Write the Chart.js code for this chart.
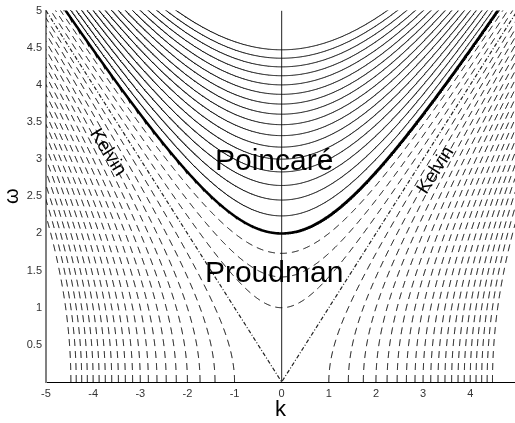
<!DOCTYPE html>
<html>
<head>
<meta charset="utf-8">
<script src="https://cdn.jsdelivr.net/npm/chart.js@4.4.0/dist/chart.umd.min.js"></script>
<style>
  html, body { margin: 0; padding: 0; background: #fff; }
  canvas { display: block; }
</style>
</head>
<body>
<canvas id="dispersionChart" width="515" height="423"></canvas>
<script>
// omega^2 at k = 0 for each branch above the Kelvin lines
const poincareCutoffs = [5, 6, 7, 8, 9, 10, 11, 12, 13, 14, 15, 16, 17, 18, 19, 20];
const inertialCutoff = 4;
const proudmanCutoffs = [1, 2, 3];
// k^2 where each branch outside the Kelvin wedge meets omega = 0
const sideIntercepts = [1, 2, 3, 4, 5, 6, 7, 8, 9, 10, 11, 12, 13, 14, 15, 16, 17, 18, 19, 20];
// Kelvin waves, omega = |k|
const kelvinK = [-5, 0, 5];

const xTicks = [-5, -4, -3, -2, -1, 0, 1, 2, 3, 4];
const yTicks = [0.5, 1, 1.5, 2, 2.5, 3, 3.5, 4, 4.5, 5];

const K_MIN = -5, K_MAX = 4.95, W_MAX = 5;
const STEP = 0.01;

const FONT = '"Liberation Sans", Arial, Helvetica, sans-serif';

// omega = sqrt(k^2 + c), sampled across k
function upperBranch(c) {
  const pts = [];
  for (let k = -5.2; k <= 5.2; k += STEP) {
    pts.push({ x: k, y: Math.sqrt(k * k + c) });
  }
  return pts;
}

// k = +-sqrt(omega^2 + n), sampled across omega so the foot stays vertical
function sideBranch(n, sign) {
  const pts = [];
  for (let w = 0; w <= W_MAX + 0.2; w += STEP) {
    pts.push({ x: sign * Math.sqrt(w * w + n), y: w });
  }
  return pts;
}

function line(data, opts) {
  return Object.assign({
    data,
    showLine: true,
    pointRadius: 0,
    borderColor: '#000',
    borderWidth: 1,
    fill: false,
    tension: 0
  }, opts);
}

const datasets = [];

sideIntercepts.forEach(n => {
  datasets.push(line(sideBranch(n, -1), { borderDash: [7, 5] }));
  datasets.push(line(sideBranch(n, 1), { borderDash: [7, 5] }));
});

proudmanCutoffs.forEach(c => {
  datasets.push(line(upperBranch(c), { borderDash: [7, 5] }));
});

poincareCutoffs.forEach(c => {
  datasets.push(line(upperBranch(c)));
});

datasets.push(line(upperBranch(inertialCutoff), { borderWidth: 2.5 }));

datasets.push(line(kelvinK.map(k => ({ x: k, y: Math.abs(k) })), {
  borderColor: '#222',
  borderWidth: 1.2,
  borderDash: [4, 2, 1, 2]
}));

// k = 0 axis
datasets.push(line([{ x: 0, y: 0 }, { x: 0, y: W_MAX }], { borderColor: '#222' }));

const regionLabels = {
  id: 'regionLabels',
  afterDatasetsDraw(chart) {
    const { ctx, scales: { x, y } } = chart;
    ctx.save();
    ctx.fillStyle = '#000';
    ctx.textAlign = 'center';
    ctx.textBaseline = 'alphabetic';
    ctx.font = '30px ' + FONT;
    ctx.fillText('Poincaré', x.getPixelForValue(-0.16), y.getPixelForValue(2.86));
    ctx.fillText('Proudman', x.getPixelForValue(-0.16), y.getPixelForValue(1.345));

    // tilt of the omega = |k| line in pixels
    const angle = Math.atan2(
      y.getPixelForValue(0) - y.getPixelForValue(1),
      x.getPixelForValue(1) - x.getPixelForValue(0)
    );
    ctx.font = '19px ' + FONT;
    ctx.textBaseline = 'middle';

    ctx.save();
    ctx.translate(x.getPixelForValue(-3.69), y.getPixelForValue(3.09));
    ctx.rotate(angle);
    ctx.fillText('Kelvin', 0, 0);
    ctx.restore();

    ctx.save();
    ctx.translate(x.getPixelForValue(3.27), y.getPixelForValue(2.85));
    ctx.rotate(-angle);
    ctx.fillText('Kelvin', 0, 0);
    ctx.restore();

    ctx.restore();
  }
};

new Chart(document.getElementById('dispersionChart'), {
  type: 'scatter',
  data: { datasets },
  options: {
    responsive: false,
    animation: false,
    devicePixelRatio: 1,
    layout: { padding: { top: 10, right: 0, left: 0, bottom: 0 } },
    plugins: {
      legend: { display: false },
      tooltip: { enabled: false }
    },
    scales: {
      x: {
        type: 'linear',
        min: K_MIN,
        max: K_MAX,
        afterBuildTicks: s => { s.ticks = xTicks.map(v => ({ value: v })); },
        afterFit: s => { s.height = 41; },
        grid: { display: false, drawTicks: false },
        border: { display: true, color: '#000', width: 1 },
        ticks: {
          autoSkip: false,
          maxRotation: 0,
          padding: 5,
          color: '#333',
          font: { family: FONT, size: 11 },
          callback: v => String(v)
        },
        title: {
          display: true,
          text: 'k',
          color: '#000',
          padding: 0,
          font: { family: FONT, size: 22 }
        }
      },
      y: {
        type: 'linear',
        min: 0,
        max: W_MAX,
        afterBuildTicks: s => { s.ticks = yTicks.map(v => ({ value: v })); },
        afterFit: s => { s.width = 46; },
        grid: { display: false, drawTicks: false },
        border: { display: true, color: '#808080', width: 2 },
        ticks: {
          autoSkip: false,
          padding: 4,
          color: '#333',
          font: { family: FONT, size: 11 },
          callback: v => String(v)
        },
        title: {
          display: true,
          text: 'ω',
          color: '#000',
          padding: 0,
          font: { family: FONT, size: 20 }
        }
      }
    }
  },
  plugins: [regionLabels]
});
</script>
</body>
</html>
